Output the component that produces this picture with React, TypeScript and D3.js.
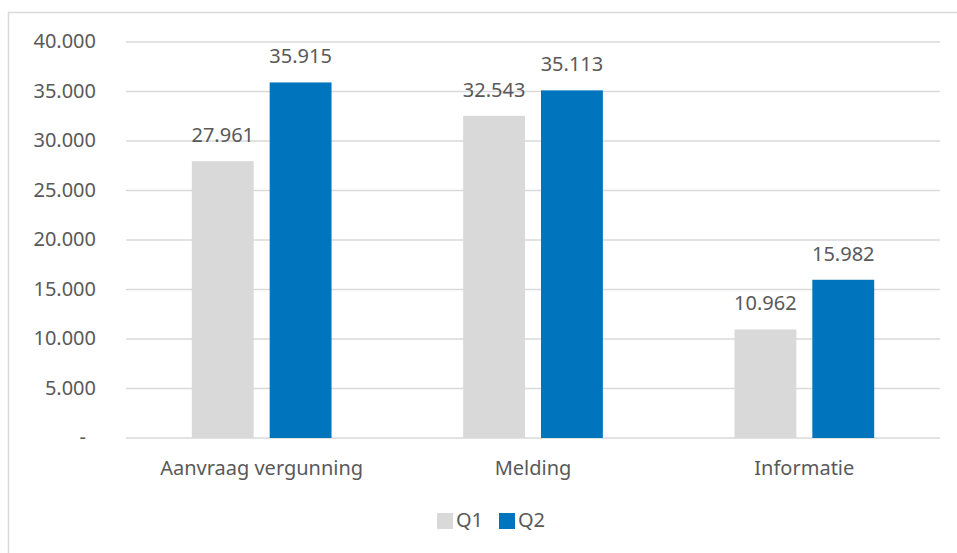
import React, { useEffect, useRef } from 'react';
import * as d3 from 'd3';

const categories = ['Aanvraag vergunning', 'Melding', 'Informatie'];
const seriesNames = ['Q1', 'Q2'];
const q1Values = [27961, 32543, 10962];
const q2Values = [35915, 35113, 15982];
const yTicks = [0, 5000, 10000, 15000, 20000, 25000, 30000, 35000, 40000];

const colors = ['#D9D9D9', '#0075BD'];
const textColor = '#595959';
const font = '"Noto Sans", "Open Sans", sans-serif';

const fmt = (v: number) =>
  v === 0 ? '-' : d3.format(',')(v).replace(/,/g, '.');

const App: React.FC = () => {
  const svgRef = useRef<SVGSVGElement>(null);

  useEffect(() => {
    if (!svgRef.current) return;
    const svg = d3.select(svgRef.current);
    svg.selectAll('*').remove();

    const width = 957;
    const height = 553;

    // chart frame
    svg.append('rect')
      .attr('x', 8.5)
      .attr('y', 12.5)
      .attr('width', width)
      .attr('height', height)
      .attr('fill', '#fff')
      .attr('stroke', '#D9D9D9')
      .attr('stroke-width', 1.5);

    const x = d3.scaleBand()
      .domain(categories)
      .range([126, 940])
      .padding(0);

    const y = d3.scaleLinear()
      .domain([0, 40000])
      .range([438, 42]);

    // gridlines
    svg.append('g')
      .selectAll('line')
      .data(yTicks)
      .enter().append('line')
      .attr('x1', 126)
      .attr('x2', 940)
      .attr('y1', d => y(d))
      .attr('y2', d => y(d))
      .attr('stroke', '#D9D9D9')
      .attr('stroke-width', 1.5);

    // y labels
    svg.append('g')
      .selectAll('text')
      .data(yTicks)
      .enter().append('text')
      .attr('x', d => (d === 0 ? 86 : 96))
      .attr('y', d => y(d) + 6)
      .attr('text-anchor', 'end')
      .style('font-family', font)
      .style('font-size', '20px')
      .style('fill', textColor)
      .text(d => fmt(d));

    const barW = x.bandwidth() * 0.228;
    const gap = 8;
    const series = [q1Values, q2Values];

    series.forEach((vals, si) => {
      const g = svg.append('g');
      const bx = (i: number) => {
        const c = x(categories[i])! + x.bandwidth() / 2;
        return si === 0 ? c - gap - barW : c + gap;
      };
      g.selectAll('rect')
        .data(vals)
        .enter().append('rect')
        .attr('x', (d, i) => bx(i))
        .attr('y', d => y(d))
        .attr('width', barW)
        .attr('height', d => y(0) - y(d))
        .attr('fill', colors[si]);

      g.selectAll('text')
        .data(vals)
        .enter().append('text')
        .attr('x', (d, i) => bx(i) + barW / 2)
        .attr('y', d => y(d) - 19)
        .attr('text-anchor', 'middle')
        .style('font-family', font)
        .style('font-size', '20px')
        .style('fill', textColor)
        .text(d => fmt(d));
    });

    // category labels
    svg.append('g')
      .selectAll('text')
      .data(categories)
      .enter().append('text')
      .attr('x', d => x(d)! + x.bandwidth() / 2)
      .attr('y', 475)
      .attr('text-anchor', 'middle')
      .style('font-family', font)
      .style('font-size', '20px')
      .style('fill', textColor)
      .text(d => d);

    // legend
    const legendX = [437, 499];
    const lg = svg.append('g');
    seriesNames.forEach((name, i) => {
      lg.append('rect')
        .attr('x', legendX[i])
        .attr('y', 513)
        .attr('width', 16)
        .attr('height', 16)
        .attr('fill', colors[i]);
      lg.append('text')
        .attr('x', legendX[i] + 19)
        .attr('y', 527)
        .style('font-family', font)
        .style('font-size', '20px')
        .style('fill', textColor)
        .text(name);
    });
  }, []);

  return (
    <svg
      ref={svgRef}
      width={957}
      height={553}
      style={{ position: 'absolute', left: 0, top: 0, background: '#fff' }}
    />
  );
};

export default App;
